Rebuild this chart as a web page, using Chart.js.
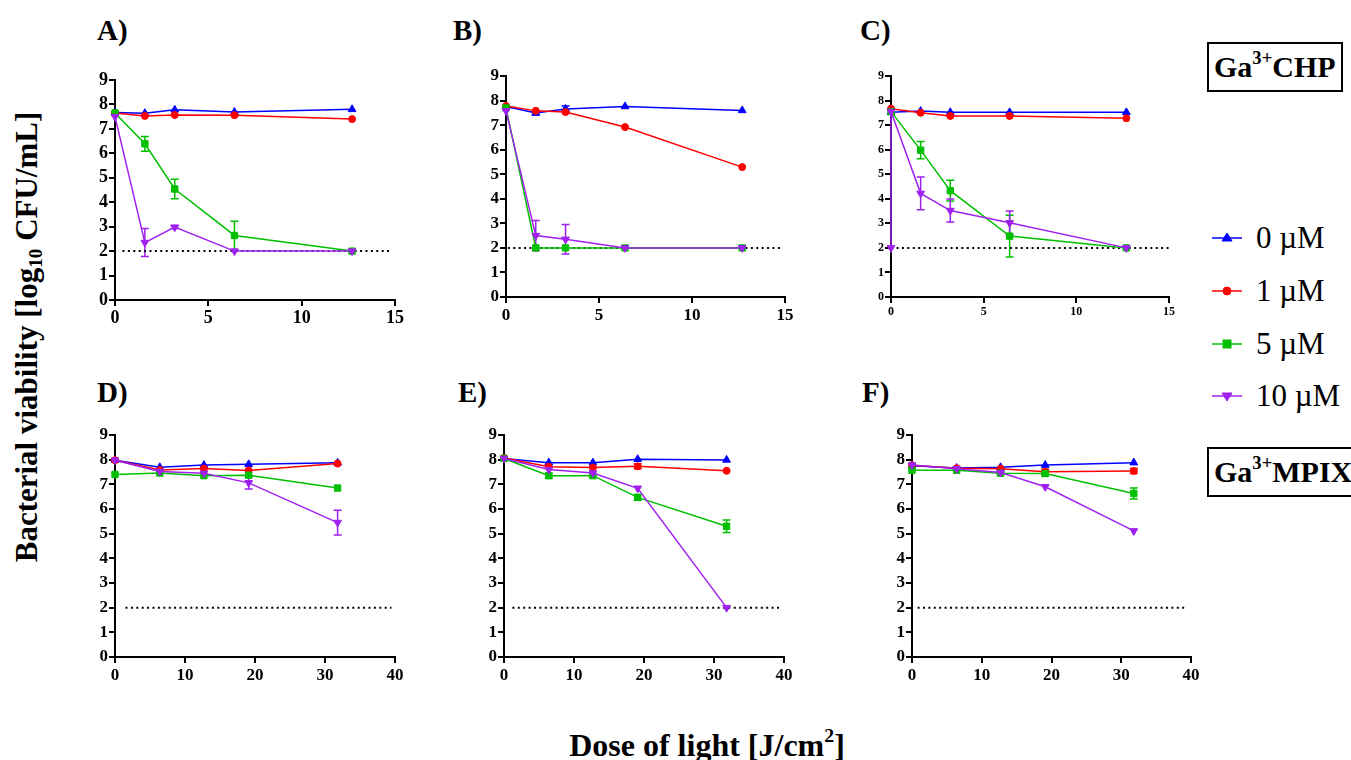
<!DOCTYPE html>
<html>
<head>
<meta charset="utf-8">
<title>Bacterial viability vs. dose of light</title>
<script src="https://cdn.jsdelivr.net/npm/chart.js"></script>
<style>
  body {
    margin: 0;
    width: 1351px;
    height: 760px;
    overflow: hidden;
    background: #fff;
    position: relative;
    font-family: 'Liberation Serif', serif;
    color: #000;
  }
  canvas { position: absolute; }
  sup { font-size: 0.62em; line-height: 0; vertical-align: 0.72em; }
  sub { font-size: 0.62em; line-height: 0; vertical-align: -0.25em; }
  .tag { position: absolute; font-weight: bold; font-size: 29px; line-height: 30px; }
  .ytitle {
    position: absolute; left: 27px; top: 337px;
    transform: translate(-50%, -50%) rotate(-90deg);
    white-space: nowrap; font-weight: bold; font-size: 31px;
  }
  .xtitle {
    position: absolute; left: 707px; top: 727px;
    transform: translateX(-50%);
    white-space: nowrap; font-weight: bold; font-size: 32px; line-height: 36px;
  }
  .box {
    position: absolute; border: 2px solid #000; font-weight: bold;
    font-size: 30px; line-height: 46px; padding: 0 5px; white-space: nowrap;
  }
  .leg { position: absolute; left: 1212px; height: 34px; display: flex; align-items: center; }
  .leg span { font-family: 'Liberation Serif', serif; font-weight: normal; font-size: 31px; margin-left: 14px; white-space: nowrap; }
</style>
</head>
<body>

<div class="tag" style="left:97px;top:15px">A)</div>
<div class="tag" style="left:453px;top:15px">B)</div>
<div class="tag" style="left:860px;top:15px">C)</div>
<div class="tag" style="left:97px;top:377px">D)</div>
<div class="tag" style="left:458px;top:377px">E)</div>
<div class="tag" style="left:862px;top:377px">F)</div>

<div class="ytitle">Bacterial viability [log<sub>10</sub> CFU/mL]</div>
<div class="xtitle">Dose of light [J/cm<sup>2</sup>]</div>

<div class="box" style="left:1207px;top:42px">Ga<sup>3+</sup>CHP</div>
<div class="box" style="left:1207px;top:447px">Ga<sup>3+</sup>MPIX</div>

<div id="legend"></div>

<script>
// light doses (J/cm2)
const doseCHP = [0, 1.6, 3.2, 6.4, 12.7];
const doseMPIX = [0, 6.4, 12.7, 19.1, 31.8];
const doseC10 = [0, 0, 1.6, 3.2, 6.4, 12.7];

const concLabels = ['0 \u00b5M', '1 \u00b5M', '5 \u00b5M', '10 \u00b5M'];
const lod = 2;

// Ga3+CHP, panel A
const a0 = [7.67, 7.64, 7.78, 7.69, 7.8];
const a1 = [7.65, 7.53, 7.57, 7.56, 7.4];
const a5 = [7.65, 6.39, 4.54, 2.64, 2.0];
const a5Err = [0, 0.3, 0.4, 0.58, 0];
const a10 = [7.5, 2.35, 2.98, 2.0, 2.0];
const a10Err = [0, 0.57, 0.06, 0, 0];

// panel B
const b0 = [7.76, 7.49, 7.66, 7.76, 7.6];
const b0Err = [0, 0.06, 0.12, 0, 0];
const b1 = [7.78, 7.58, 7.53, 6.92, 5.29];
const b5 = [7.7, 2.0, 2.0, 2.0, 2.0];
const b10 = [7.58, 2.5, 2.35, 2.0, 2.0];
const b10Err = [0, 0.62, 0.6, 0, 0];

// panel C
const c0 = [7.52, 7.57, 7.52, 7.52, 7.52];
const c1 = [7.67, 7.5, 7.37, 7.37, 7.28];
const c5 = [7.55, 5.98, 4.33, 2.48, 2.0];
const c5Err = [0, 0.35, 0.42, 0.85, 0];
const c10 = [2.0, 7.55, 4.22, 3.52, 3.02, 2.0];
const c10Err = [0, 0, 0.67, 0.47, 0.48, 0];

// Ga3+MPIX, panel D
const d0 = [7.98, 7.69, 7.78, 7.81, 7.87];
const d1 = [7.98, 7.58, 7.64, 7.56, 7.84];
const d5 = [7.4, 7.46, 7.35, 7.37, 6.85];
const d10 = [7.98, 7.52, 7.45, 7.06, 5.45];
const d10Err = [0, 0, 0, 0.25, 0.5];

// panel E
const e0 = [8.05, 7.88, 7.88, 8.02, 7.99];
const e1 = [8.07, 7.71, 7.68, 7.73, 7.55];
const e1Err = [0, 0, 0, 0.1, 0];
const e5 = [8.05, 7.35, 7.35, 6.47, 5.3];
const e5Err = [0, 0.1, 0.06, 0.12, 0.25];
const e10 = [8.05, 7.6, 7.46, 6.84, 2.0];

// panel F
const f0 = [7.75, 7.66, 7.69, 7.78, 7.88];
const f1 = [7.77, 7.65, 7.63, 7.51, 7.54];
const f1Err = [0, 0, 0, 0.1, 0.1];
const f5 = [7.57, 7.57, 7.45, 7.44, 6.63];
const f5Err = [0, 0, 0.05, 0.1, 0.22];
const f10 = [7.78, 7.63, 7.48, 6.9, 5.11];

const colors = ['#0000ff', '#ff0000', '#00c000', '#a020f0'];
const styles = [
  { pointStyle: 'triangle', radius: 4.5, rotation: 0 },
  { pointStyle: 'circle', radius: 3.5, rotation: 0 },
  { pointStyle: 'rect', radius: 4.5, rotation: 0 },
  { pointStyle: 'triangle', radius: 4.5, rotation: 180 }
];

const panels = [
  { left: 115, top: 80, right: 395, bottom: 300, xMax: 15, xStep: 5, font: 18,
    doses: [doseCHP, doseCHP, doseCHP, doseCHP], series: [a0, a1, a5, a10],
    errs: [null, null, a5Err, a10Err], lodRange: [0.4, 14.7] },
  { left: 506, top: 76, right: 785, bottom: 297, xMax: 15, xStep: 5, font: 17,
    doses: [doseCHP, doseCHP, doseCHP, doseCHP], series: [b0, b1, b5, b10],
    errs: [b0Err, null, null, b10Err], lodRange: [0.1, 14.8] },
  { left: 891, top: 76, right: 1169, bottom: 297, xMax: 15, xStep: 5, font: 12,
    doses: [doseCHP, doseCHP, doseCHP, doseC10], series: [c0, c1, c5, c10],
    errs: [null, null, c5Err, c10Err], lodRange: [0.3, 15.1] },
  { left: 115, top: 435, right: 395, bottom: 657, xMax: 40, xStep: 10, font: 17,
    doses: [doseMPIX, doseMPIX, doseMPIX, doseMPIX], series: [d0, d1, d5, d10],
    errs: [null, null, null, d10Err], lodRange: [1.5, 39.5] },
  { left: 504, top: 435, right: 784, bottom: 657, xMax: 40, xStep: 10, font: 17,
    doses: [doseMPIX, doseMPIX, doseMPIX, doseMPIX], series: [e0, e1, e5, e10],
    errs: [null, e1Err, e5Err, null], lodRange: [1.2, 39.5] },
  { left: 912, top: 435, right: 1191, bottom: 657, xMax: 40, xStep: 10, font: 17,
    doses: [doseMPIX, doseMPIX, doseMPIX, doseMPIX], series: [f0, f1, f5, f10],
    errs: [null, f1Err, f5Err, null], lodRange: [0.8, 39.5] }
];

// vertical error bars with caps, drawn from each dataset's "errors" list
const errorBars = {
  id: 'errorBars',
  beforeDatasetsDraw(chart) {
    const ctx = chart.ctx;
    const yScale = chart.scales.y;
    chart.data.datasets.forEach((ds, i) => {
      if (!ds.errors) return;
      const meta = chart.getDatasetMeta(i);
      ctx.save();
      ctx.strokeStyle = ds.borderColor;
      ctx.lineWidth = 1.5;
      meta.data.forEach((pt, k) => {
        const e = ds.errors[k];
        if (!e) return;
        const v = ds.data[k].y;
        const y1 = yScale.getPixelForValue(v + e);
        const y2 = yScale.getPixelForValue(v - e);
        ctx.beginPath();
        ctx.moveTo(pt.x, y1); ctx.lineTo(pt.x, y2);
        ctx.moveTo(pt.x - 4, y1); ctx.lineTo(pt.x + 4, y1);
        ctx.moveTo(pt.x - 4, y2); ctx.lineTo(pt.x + 4, y2);
        ctx.stroke();
      });
      ctx.restore();
    });
  }
};

function makePanel(p) {
  const padL = 60, padT = 20, padR = 30, padB = 45;
  const w = p.right - p.left + padL + padR;
  const h = p.bottom - p.top + padT + padB;
  const cv = document.createElement('canvas');
  cv.width = w;
  cv.height = h;
  cv.style.left = (p.left - padL) + 'px';
  cv.style.top = (p.top - padT) + 'px';
  cv.style.width = w + 'px';
  cv.style.height = h + 'px';
  document.body.appendChild(cv);

  const datasets = p.series.map((vals, i) => ({
    label: concLabels[i],
    data: vals.map((v, k) => ({ x: p.doses[i][k], y: v })),
    errors: p.errs[i],
    borderColor: colors[i],
    backgroundColor: colors[i],
    borderWidth: 1.5,
    pointStyle: styles[i].pointStyle,
    pointRadius: styles[i].radius,
    pointRotation: styles[i].rotation,
    pointBorderWidth: 1,
    tension: 0,
    clip: false,
    order: 4 - i
  }));
  // limit of detection
  datasets.push({
    label: 'LOD',
    data: p.lodRange.map(x => ({ x: x, y: lod })),
    borderColor: '#000',
    borderWidth: 2,
    borderDash: [2, 3.4],
    pointRadius: 0,
    clip: false,
    order: 10
  });

  const tickFont = { family: 'Liberation Serif', weight: 'bold', size: p.font };

  new Chart(cv.getContext('2d'), {
    type: 'line',
    data: { datasets: datasets },
    options: {
      responsive: false,
      animation: false,
      devicePixelRatio: 1,
      layout: { padding: { left: 0, top: padT, right: padR, bottom: 0 } },
      plugins: { legend: { display: false }, tooltip: { enabled: false } },
      scales: {
        x: {
          type: 'linear', min: 0, max: p.xMax,
          ticks: { stepSize: p.xStep, autoSkip: false, color: '#000', font: tickFont, padding: 2, maxRotation: 0 },
          grid: { drawOnChartArea: false, color: '#000', lineWidth: 2, tickLength: 6 },
          border: { color: '#000', width: 2 },
          afterFit: s => { s.height = padB; }
        },
        y: {
          min: 0, max: 9,
          ticks: { stepSize: 1, autoSkip: false, color: '#000', font: tickFont, padding: 1 },
          grid: { drawOnChartArea: false, color: '#000', lineWidth: 2, tickLength: 6 },
          border: { color: '#000', width: 2 },
          afterFit: s => { s.width = padL; }
        }
      }
    },
    plugins: [errorBars]
  });
}

// legend entries: short line with the series marker
const legendY = [238, 291, 344, 396];
const markerSvg = [
  '<polygon points="15,2 20,10 10,10" />',
  '<circle cx="15" cy="7" r="4" />',
  '<rect x="11" y="3" width="8" height="8" />',
  '<polygon points="10,4 20,4 15,12" />'
];
const legend = document.getElementById('legend');
concLabels.forEach((lab, i) => {
  const div = document.createElement('div');
  div.className = 'leg';
  div.style.top = (legendY[i] - 17) + 'px';
  div.innerHTML =
    '<svg width="30" height="14" style="fill:' + colors[i] + ';stroke:' + colors[i] + '">' +
    '<line x1="0" y1="7" x2="30" y2="7" stroke-width="1.5" />' + markerSvg[i] + '</svg>' +
    '<span>' + lab + '</span>';
  legend.appendChild(div);
});

document.fonts.load('bold 17px "Liberation Serif"').then(() => {
  panels.forEach(makePanel);
});
</script>
</body>
</html>
